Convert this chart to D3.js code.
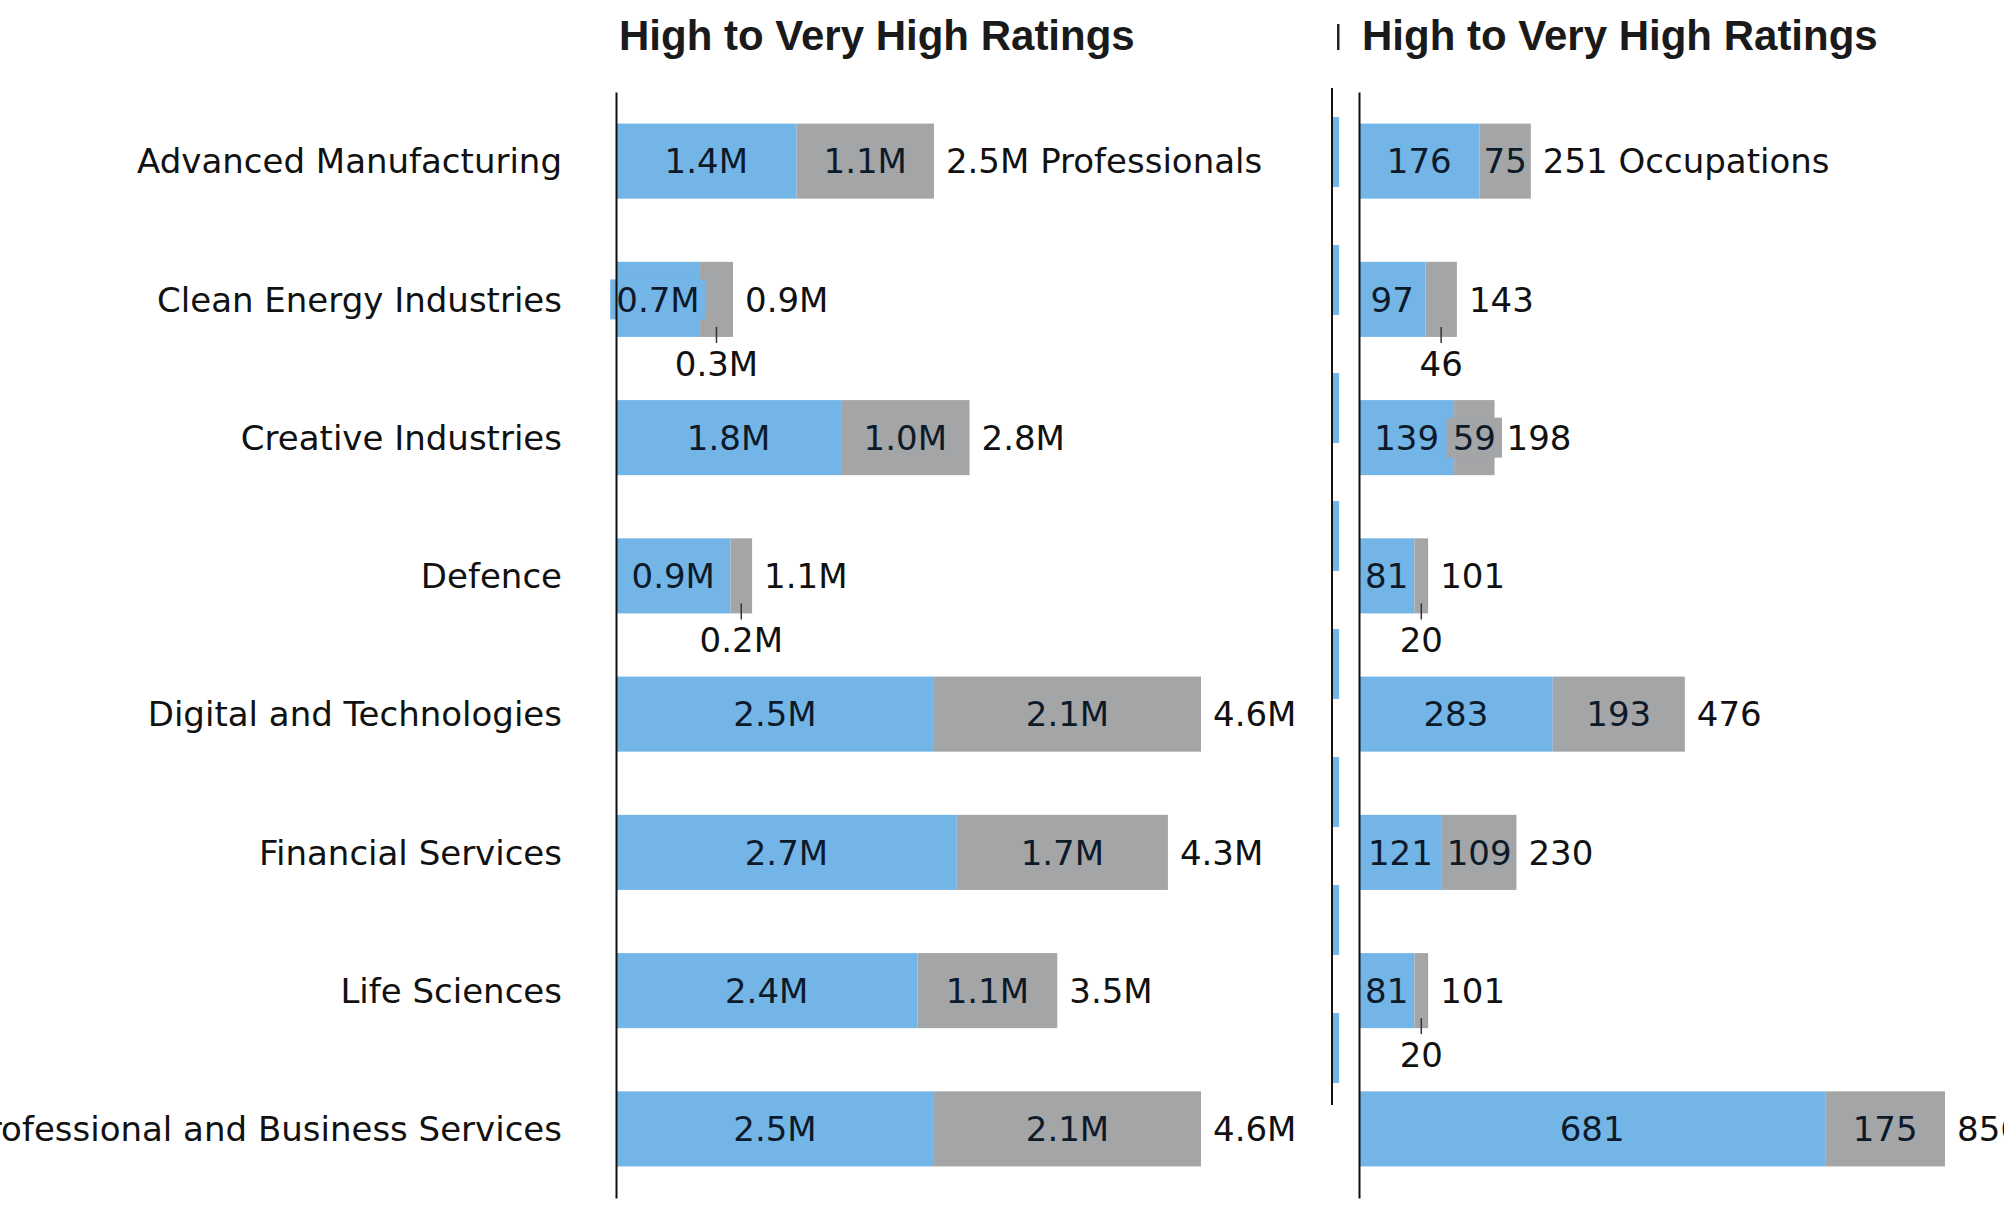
<!DOCTYPE html>
<html>
<head>
<meta charset="utf-8">
<script src="https://cdn.jsdelivr.net/npm/d3@7/dist/d3.min.js"></script>
<style>
  html, body { margin: 0; padding: 0; background: #ffffff; }
  svg { display: block; }
</style>
</head>
<body>
<svg id="chart" width="2004" height="1218"></svg>
<script>
// ---------- data ----------
const categories = [
  "Advanced Manufacturing",
  "Clean Energy Industries",
  "Creative Industries",
  "Defence",
  "Digital and Technologies",
  "Financial Services",
  "Life Sciences",
  "Professional and Business Services"
];
// Professionals (millions)
const profBlue = [1.42, 0.66, 1.77, 0.90, 2.50, 2.68, 2.37, 2.50];
const profGray = [1.08, 0.26, 1.01, 0.17, 2.10, 1.66, 1.10, 2.10];
// Occupations (counts)
const occBlue = [176, 97, 139, 81, 283, 121, 81, 681];
const occGray = [75, 46, 59, 20, 193, 109, 20, 175];

const panelTitles = ["High to Very High Ratings", "High to Very High Ratings"];
const totalSuffix = [" Professionals", " Occupations"];

// ---------- style ----------
const BLUE = "#74b5e7";
const GRAY = "#a3a5a7";
const INK = "#111111";
const INNER_INK = "#0d1a2a";
const FONT = "'DejaVu Sans', sans-serif";
const TITLE_FONT = "'Liberation Sans', Arial, sans-serif";
const FS = 34;

const svg = d3.select("#chart");
svg.append("rect").attr("width", 2004).attr("height", 1218).attr("fill", "#fff");

const y = d3.scaleBand()
  .domain(categories)
  .range([92, 1198])
  .paddingInner(0.457)
  .paddingOuter(0.457 / 2);

const maxLeft = d3.max(profBlue.map((v, i) => v + profGray[i]));
const maxRight = d3.max(occBlue.map((v, i) => v + occGray[i]));
const xL = d3.scaleLinear().domain([0, maxLeft]).range([616, 616 + 585]);
const xR = d3.scaleLinear().domain([0, maxRight]).range([1359, 1359 + 586]);

const fmtM = v => v.toFixed(1) + "M";
const fmtN = v => String(Math.round(v));

// ---------- ghost (clipped) panel between the two ----------
svg.append("clipPath").attr("id", "ghostClip")
  .append("rect").attr("x", 1333).attr("y", 0).attr("width", 6).attr("height", 1218);
const yGhost = d3.scaleBand()
  .domain(categories)
  .range([88, 1112])
  .paddingInner(0.453)
  .paddingOuter(0.453 / 2);
const xGhost = d3.scaleLinear().domain([0, maxRight]).range([1333, 1333 + 586]);
const ghost = svg.append("g").attr("clip-path", "url(#ghostClip)");
ghost.selectAll("rect.ghost")
  .data(categories)
  .join("rect")
  .attr("class", "ghost")
  .attr("x", xGhost(0))
  .attr("y", d => yGhost(d))
  .attr("width", (d, i) => xGhost(occBlue[i]) - xGhost(0))
  .attr("height", yGhost.bandwidth())
  .attr("fill", BLUE);
svg.append("line")
  .attr("x1", 1332).attr("x2", 1332)
  .attr("y1", 88).attr("y2", 1105)
  .attr("stroke", INK).attr("stroke-width", 2);
svg.append("rect")
  .attr("x", 1337).attr("y", 24).attr("width", 2.5).attr("height", 26)
  .attr("fill", "#222");

// ---------- panel drawing ----------
function drawPanel(x, blue, gray, fmt, suffix, title, showLabels) {
  const g = svg.append("g");

  // title
  g.append("text")
    .attr("x", x(0) + 3)
    .attr("y", 50)
    .attr("font-family", TITLE_FONT)
    .attr("font-weight", "bold")
    .attr("font-size", 42)
    .attr("fill", "#1a1a1a")
    .text(title);

  const rows = g.selectAll("g.row")
    .data(categories)
    .join("g")
    .attr("class", "row");

  rows.each(function (cat, i) {
    const row = d3.select(this);
    const y0 = y(cat);
    const h = y.bandwidth();
    const cy = y0 + h / 2;
    const segs = [
      { v: blue[i], x0: x(0), x1: x(blue[i]), color: BLUE },
      { v: gray[i], x0: x(blue[i]), x1: x(blue[i] + gray[i]), color: GRAY }
    ];
    // bars
    segs.forEach(s => {
      row.append("rect")
        .attr("x", s.x0)
        .attr("y", y0)
        .attr("width", s.x1 - s.x0)
        .attr("height", h)
        .attr("fill", s.color);
    });
    // segment labels
    segs.forEach(s => {
      const segW = s.x1 - s.x0;
      const cx = (s.x0 + s.x1) / 2;
      if (segW >= 36) {
        const t = row.append("text")
          .attr("x", cx)
          .attr("y", cy)
          .attr("dy", "0.36em")
          .attr("text-anchor", "middle")
          .attr("font-family", FONT)
          .attr("font-size", FS)
          .attr("fill", INNER_INK)
          .text(fmt(s.v));
        const w = t.node().getComputedTextLength();
        if (w + 8 > segW) {
          row.insert("rect", () => t.node())
            .attr("x", cx - w / 2 - 6)
            .attr("y", cy - 20)
            .attr("width", w + 12)
            .attr("height", 40)
            .attr("fill", s.color);
        }
      } else {
        row.append("line")
          .attr("x1", cx).attr("x2", cx)
          .attr("y1", y0 + h - 10).attr("y2", y0 + h + 6)
          .attr("stroke", "#333").attr("stroke-width", 1.5);
        row.append("text")
          .attr("x", cx)
          .attr("y", y0 + h + 39)
          .attr("text-anchor", "middle")
          .attr("font-family", FONT)
          .attr("font-size", FS)
          .attr("fill", INK)
          .text(fmt(s.v));
      }
    });
    // total
    row.append("text")
      .attr("x", x(blue[i] + gray[i]) + 12)
      .attr("y", cy)
      .attr("dy", "0.36em")
      .attr("font-family", FONT)
      .attr("font-size", FS)
      .attr("fill", INK)
      .text(fmt(blue[i] + gray[i]) + (i === 0 ? suffix : ""));
  });

  // axis
  const axis = d3.axisLeft(y).tickSize(0).tickSizeOuter(0).tickPadding(x(0) - 562);
  if (!showLabels) axis.tickFormat("");
  const ax = g.append("g")
    .attr("transform", `translate(${x(0)},0)`)
    .call(axis);
  ax.attr("font-family", FONT).attr("font-size", FS);
  ax.select(".domain").attr("stroke", INK).attr("stroke-width", 2);
  ax.selectAll(".tick text").attr("fill", INK).attr("dy", "0.36em");
}

drawPanel(xL, profBlue, profGray, fmtM, totalSuffix[0], panelTitles[0], true);
drawPanel(xR, occBlue, occGray, fmtN, totalSuffix[1], panelTitles[1], false);
</script>
</body>
</html>
